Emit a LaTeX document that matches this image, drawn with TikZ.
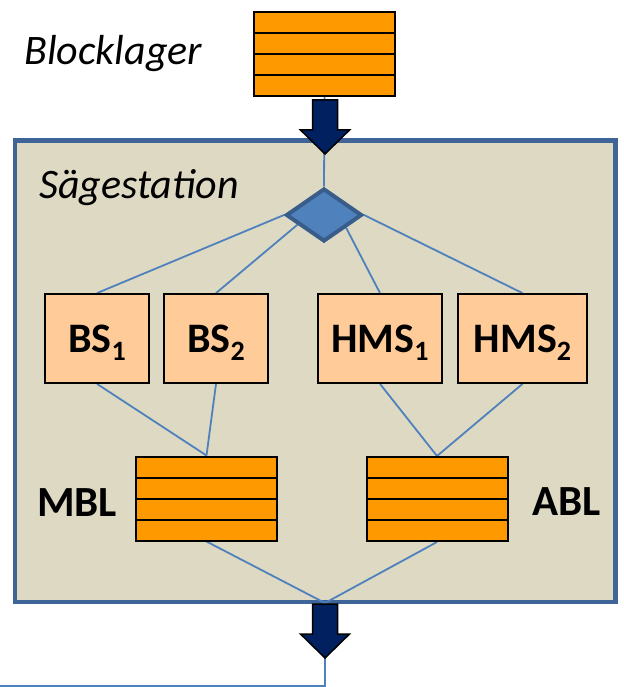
\documentclass[tikz,border=0pt]{standalone}
\usepackage{fontspec}
\setmainfont{Carlito}
\usetikzlibrary{shapes.geometric,calc}
\definecolor{stackor}{HTML}{FF9900}
\definecolor{peach}{HTML}{FFCC99}
\definecolor{framefill}{HTML}{DDD9C3}
\definecolor{frameline}{HTML}{3E6498}
\definecolor{connblue}{HTML}{4F81BD}
\definecolor{navy}{HTML}{002060}
\definecolor{diaedge}{HTML}{385D8A}
\newcommand\mysub[1]{\raisebox{-8pt}[0pt][0pt]{\fontsize{28}{28}\selectfont #1}}
\pgfdeclarelayer{framelayer}
\pgfdeclarelayer{connlayer}
\pgfsetlayers{framelayer,connlayer,main}
\begin{document}
\begin{tikzpicture}[x=1pt,y=-1pt,
  stack/.style={draw=black, line width=2pt, fill=stackor, inner sep=0pt,
    minimum width=141pt, minimum height=84pt,
    path picture={\foreach \f in {0.25,0.5,0.75}{\draw[line width=2pt]
      ($(path picture bounding box.north west)!\f!(path picture bounding box.south west)$) --
      ($(path picture bounding box.north east)!\f!(path picture bounding box.south east)$);}}},
  box/.style={draw=black, line width=1.8pt, fill=peach, inner sep=0pt, minimum height=89pt,
    font=\fontsize{42}{42}\selectfont\bfseries},
  conn/.style={draw=connblue, line width=1.8pt},
  lbl/.style={anchor=base west, inner sep=0pt},
  bigarrow/.pic={\draw[fill=navy, draw=black, line width=1.5pt, line join=miter]
    (-12.5,0) -- (12.5,0) -- (12.5,30) -- (24.5,30) -- (0,54) -- (-24.5,30) -- (-12.5,30) -- cycle;}
]
\useasboundingbox (0,0) rectangle (623,687);
\begin{pgfonlayer}{framelayer}
\node[draw=frameline, fill=framefill, line width=4.5pt, inner sep=0pt,
  minimum width=600.5pt, minimum height=461.5pt] (frame) at (315.25,371.25) {};
\end{pgfonlayer}

% labels
\node[lbl, font=\fontsize{42}{42}\selectfont\itshape] (tbl) at (24,65) {Blocklager};
\node[lbl, font=\fontsize{42}{42}\selectfont\itshape] (tsg) at (39,198) {Sägestation};
\node[lbl, font=\fontsize{43}{43}\selectfont\bfseries] (tmbl) at (37,516) {MBL};
\node[lbl, font=\fontsize{43}{43}\selectfont\bfseries] (tabl) at (532,515) {ABL};

% stacks
\node[stack] (bl) at (324.5,54) {};
\node[stack] (mbl) at (206.5,498.5) {};
\node[stack] (abl) at (437,499) {};

% diamond
\node[diamond, draw=diaedge, fill=connblue, line width=4pt, inner sep=0pt,
  minimum width=76pt, minimum height=53pt] (dia) at (324,215) {};

% boxes
\node[box, minimum width=104pt] (bs1) at (97,338.5) {BS\mysub{1}};
\node[box, minimum width=104pt] (bs2) at (216,338.5) {BS\mysub{2}};
\node[box, minimum width=124pt] (hms1) at (380,338.5) {HMS\mysub{1}};
\node[box, minimum width=129pt] (hms2) at (522.5,338.5) {HMS\mysub{2}};

\coordinate (join) at (325,603);
\coordinate (down) at (325,686);
\coordinate (leftend) at (0,686);

\begin{pgfonlayer}{connlayer}
\draw[conn] (bl.south) -- (dia.north);
\draw[conn] (dia.west) -- (bs1.north);
\draw[conn] (dia.200) -- (bs2.north);
\draw[conn] (dia.330) -- (hms1.north);
\draw[conn] (dia.east) -- (hms2.north);
\draw[conn] (bs1.south) -- (mbl.north);
\draw[conn] (bs2.south) -- (mbl.north);
\draw[conn] (hms1.south) -- (abl.north);
\draw[conn] (hms2.south) -- (abl.north);
\draw[conn] (mbl.south) -- (join);
\draw[conn] (abl.south) -- (join);
\draw[conn] (join) -- (down) -- (leftend);
\end{pgfonlayer}

% block arrows
\pic at (325,100) {bigarrow};
\pic at (325,604) {bigarrow};
\end{tikzpicture}
\end{document}
